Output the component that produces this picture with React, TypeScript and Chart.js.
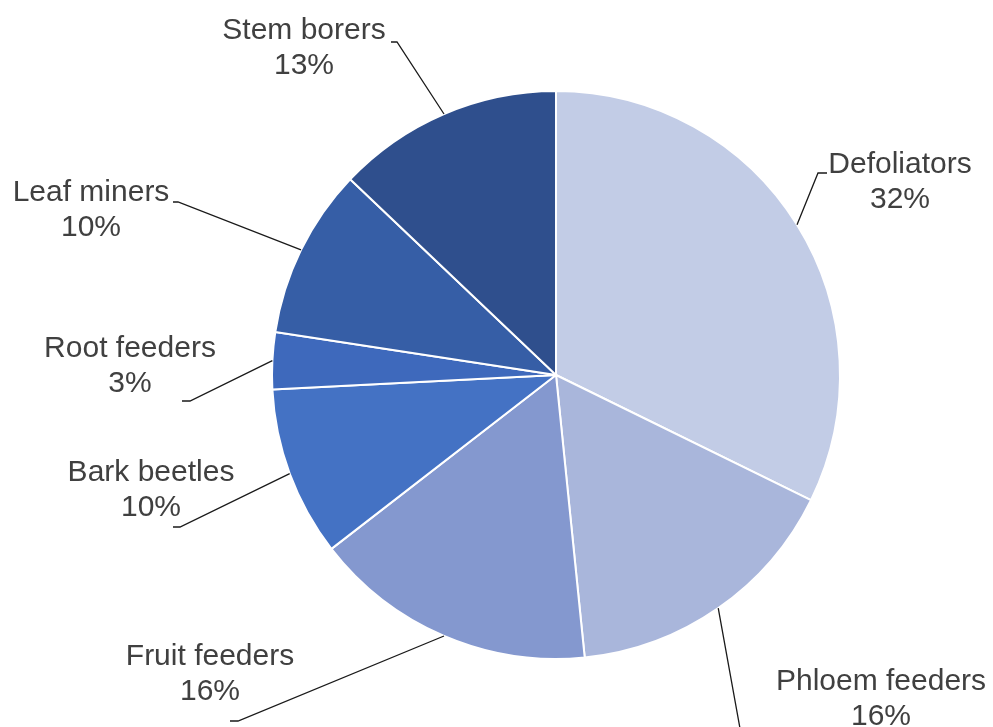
import React, { useEffect, useRef } from "react";
import { Chart, registerables } from "chart.js";

Chart.register(...registerables);

const categories = [
  "Defoliators",
  "Phloem feeders",
  "Fruit feeders",
  "Bark beetles",
  "Root feeders",
  "Leaf miners",
  "Stem borers",
];
const counts = [10, 5, 5, 3, 1, 3, 4];
const sliceColors = [
  "#C2CCE6",
  "#A9B6DB",
  "#8498CF",
  "#4472C4",
  "#3E69BC",
  "#365EA6",
  "#2F4F8D",
];

// Label layout relative to the pie center: text center of first line, and leader-line bend/end points
const labelLayout = [
  { tx: 344, ty: -210, bend: [262, -202], end: [271, -202] },
  { tx: 325, ty: 307, bend: [187, 370], end: [197, 370] },
  { tx: -346, ty: 282, bend: [-318, 346], end: [-326, 346] },
  { tx: -405, ty: 98, bend: [-376, 152], end: [-383, 152] },
  { tx: -426, ty: -26, bend: [-366, 26], end: [-374, 26] },
  { tx: -465, ty: -182, bend: [-378, -173], end: [-383, -173] },
  { tx: -252, ty: -344, bend: [-159, -333], end: [-165, -333] },
];

const total = counts.reduce((a, b) => a + b, 0);

const labelPlugin = {
  id: "outsideLabels",
  afterDraw(chart: any) {
    const ctx = chart.ctx;
    const meta = chart.getDatasetMeta(0);
    ctx.save();
    meta.data.forEach((arc: any, i: number) => {
      const p = arc.getProps(["x", "y", "startAngle", "endAngle", "outerRadius"], true);
      const mid = (p.startAngle + p.endAngle) / 2;
      const ax = p.x + Math.cos(mid) * p.outerRadius;
      const ay = p.y + Math.sin(mid) * p.outerRadius;
      const L = labelLayout[i];
      ctx.beginPath();
      ctx.strokeStyle = "#1a1a1a";
      ctx.lineWidth = 1.3;
      ctx.moveTo(ax, ay);
      ctx.lineTo(p.x + L.bend[0], p.y + L.bend[1]);
      ctx.lineTo(p.x + L.end[0], p.y + L.end[1]);
      ctx.stroke();

      ctx.fillStyle = "#404040";
      ctx.font = '30px "Liberation Sans", Arial, sans-serif';
      ctx.textAlign = "center";
      ctx.textBaseline = "middle";
      const pct = Math.round((counts[i] / total) * 100) + "%";
      ctx.fillText(categories[i], p.x + L.tx, p.y + L.ty);
      ctx.fillText(pct, p.x + L.tx, p.y + L.ty + 35);
    });
    ctx.restore();
  },
};

export default function App() {
  const ref = useRef<HTMLCanvasElement>(null);
  useEffect(() => {
    if (!ref.current) return;
    const chart = new Chart(ref.current, {
      type: "pie",
      data: {
        labels: categories,
        datasets: [
          {
            data: counts,
            backgroundColor: sliceColors,
            borderColor: "#ffffff",
            borderWidth: 2,
          },
        ],
      },
      options: {
        responsive: false,
        animation: false,
        layout: { padding: { top: 90, bottom: 67, left: 271, right: 152 } },
        plugins: {
          legend: { display: false },
          tooltip: { enabled: false },
        },
      },
      plugins: [labelPlugin],
    });
    return () => chart.destroy();
  }, []);
  return (
    <div style={{ position: "fixed", left: 0, top: 0, width: 993, height: 727, background: "#fff" }}>
      <canvas ref={ref} width={993} height={727} style={{ width: 993, height: 727, display: "block" }} />
    </div>
  );
}
